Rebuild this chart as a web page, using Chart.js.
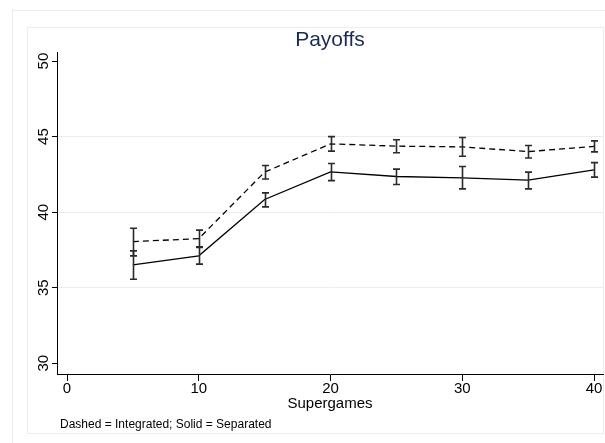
<!DOCTYPE html>
<html>
<head>
<meta charset="utf-8">
<script src="https://cdn.jsdelivr.net/npm/chart.js@4.4.0/dist/chart.umd.min.js"></script>
<style>
  html, body { margin: 0; padding: 0; background: #fff; }
  #payoffs { display: block; }
</style>
</head>
<body>
<canvas id="payoffs" width="605" height="443"></canvas>
<script>
// supergame blocks and mean payoffs with 95% intervals
const supergames = [5, 10, 15, 20, 25, 30, 35, 40];

const integrated   = [38.05, 38.25, 42.65, 44.52, 44.37, 44.32, 44.01, 44.35];
const integratedLo = [37.11, 37.70, 42.20, 44.04, 43.93, 43.70, 43.58, 43.99];
const integratedHi = [38.94, 38.81, 43.09, 45.00, 44.79, 44.94, 44.41, 44.72];

const separated   = [36.51, 37.11, 40.84, 42.67, 42.36, 42.27, 42.12, 42.80];
const separatedLo = [35.56, 36.56, 40.35, 42.09, 41.83, 41.54, 41.54, 42.32];
const separatedHi = [37.44, 37.66, 41.28, 43.22, 42.85, 43.02, 42.65, 43.28];

const xTicks = [0, 10, 20, 30, 40];
const yTicks = [30, 35, 40, 45, 50];

const FONT = '"Liberation Sans", Arial, sans-serif';
const GRID = '#e6eef0';

// outer frames, title, rotated y labels and the note under the axis
const stataDecor = {
  id: 'stataDecor',
  beforeDraw(chart) {
    const ctx = chart.ctx;
    ctx.save();
    ctx.fillStyle = '#fff';
    ctx.fillRect(0, 0, chart.width, chart.height);
    ctx.strokeStyle = GRID;
    ctx.lineWidth = 1;
    ctx.strokeRect(12.5, 10.5, 700, 500);
    ctx.strokeRect(27.5, 27.5, 576, 406);
    ctx.restore();
  },
  afterDraw(chart) {
    const ctx = chart.ctx;
    const area = chart.chartArea;
    const y = chart.scales.y;
    ctx.save();
    ctx.fillStyle = '#1a2b50';
    ctx.font = '21px ' + FONT;
    ctx.textAlign = 'center';
    ctx.textBaseline = 'alphabetic';
    ctx.fillText('Payoffs', (area.left + area.right) / 2, 46);

    ctx.fillStyle = '#000';
    ctx.font = '15px ' + FONT;
    y.ticks.forEach(t => {
      const py = y.getPixelForValue(t.value);
      ctx.save();
      ctx.translate(48, py);
      ctx.rotate(-Math.PI / 2);
      ctx.fillText(String(t.value), 0, 0);
      ctx.restore();
    });

    ctx.font = '12px ' + FONT;
    ctx.textAlign = 'left';
    ctx.fillText('Dashed = Integrated; Solid = Separated', 60, 428);
    ctx.restore();
  }
};

// vertical interval lines with caps, placed through the scales
const errorBars = {
  id: 'errorBars',
  afterDatasetsDraw(chart) {
    const ctx = chart.ctx;
    const xs = chart.scales.x, ys = chart.scales.y;
    const cap = 3.5;
    ctx.save();
    ctx.strokeStyle = '#2a2a2a';
    ctx.lineWidth = 1.6;
    chart.data.datasets.forEach(ds => {
      ds.data.forEach((p, i) => {
        const px = Math.round(xs.getPixelForValue(p.x)) + 0.5;
        const top = ys.getPixelForValue(ds.hi[i]);
        const bot = ys.getPixelForValue(ds.lo[i]);
        ctx.beginPath();
        ctx.moveTo(px, top);
        ctx.lineTo(px, bot);
        ctx.moveTo(px - cap, top);
        ctx.lineTo(px + cap, top);
        ctx.moveTo(px - cap, bot);
        ctx.lineTo(px + cap, bot);
        ctx.stroke();
      });
    });
    ctx.restore();
  }
};

const toPoints = vals => vals.map((v, i) => ({ x: supergames[i], y: v }));

new Chart(document.getElementById('payoffs'), {
  type: 'line',
  data: {
    datasets: [
      {
        label: 'Integrated',
        data: toPoints(integrated),
        lo: integratedLo,
        hi: integratedHi,
        borderColor: '#000',
        borderWidth: 1.3,
        borderDash: [6, 4],
        pointRadius: 0,
        tension: 0
      },
      {
        label: 'Separated',
        data: toPoints(separated),
        lo: separatedLo,
        hi: separatedHi,
        borderColor: '#000',
        borderWidth: 1.3,
        pointRadius: 0,
        tension: 0
      }
    ]
  },
  options: {
    responsive: false,
    animation: false,
    devicePixelRatio: 1,
    layout: { padding: { top: 52, right: 2, left: 0, bottom: 0 } },
    plugins: {
      legend: { display: false },
      title: { display: false },
      tooltip: { enabled: false }
    },
    scales: {
      x: {
        type: 'linear',
        min: -0.76,
        max: 40.68,
        afterBuildTicks: s => { s.ticks = xTicks.map(v => ({ value: v })); },
        afterFit: s => { s.height = 69; },
        border: { display: true, color: '#000', width: 1 },
        grid: { drawOnChartArea: false, drawTicks: true, tickLength: 7, tickColor: '#000' },
        ticks: { color: '#000', font: { family: FONT, size: 15 }, padding: -1, maxRotation: 0 },
        title: {
          display: true,
          text: 'Supergames',
          color: '#000',
          font: { family: FONT, size: 15 },
          padding: { top: 0, bottom: 30 }
        }
      },
      y: {
        type: 'linear',
        min: 29.29,
        max: 50.6,
        afterBuildTicks: s => { s.ticks = yTicks.map(v => ({ value: v })); },
        afterFit: s => { s.width = 57; },
        border: { display: true, color: '#000', width: 1 },
        grid: {
          drawTicks: true,
          tickLength: 5,
          tickColor: '#000',
          color: c => (c.tick && (c.tick.value === 30 || c.tick.value === 50)) ? 'rgba(0,0,0,0)' : GRID
        },
        ticks: { display: false }
      }
    }
  },
  plugins: [stataDecor, errorBars]
});
</script>
</body>
</html>
